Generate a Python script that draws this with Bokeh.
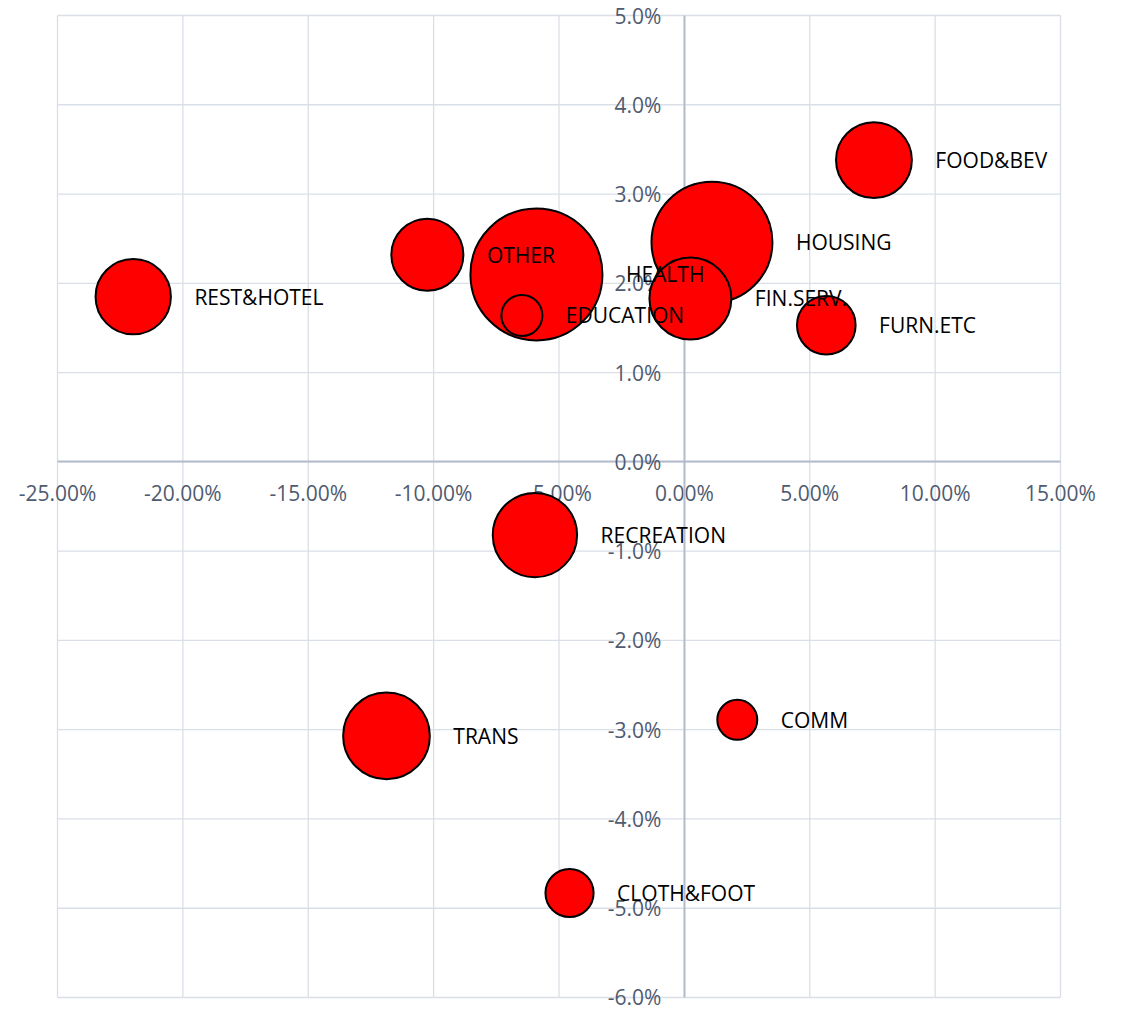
import math

from bokeh.core.properties import value
from bokeh.embed import file_html
from bokeh.models import ColumnDataSource, FixedTicker, NumeralTickFormatter, Range1d
from bokeh.plotting import figure
from bokeh.resources import INLINE

# Spending categories: price change (x), volume change (y), bubble size = weight
categories = ["REST&HOTEL", "OTHER", "HEALTH", "EDUCATION", "HOUSING", "FIN.SERV.",
              "FOOD&BEV", "FURN.ETC", "RECREATION", "TRANS", "COMM", "CLOTH&FOOT"]
x_change = [-0.2198, -0.1025, -0.0590, -0.0648, 0.0110, 0.0024,
            0.0756, 0.0566, -0.0596, -0.1188, 0.0211, -0.0458]
y_change = [0.0185, 0.0232, 0.0210, 0.0164, 0.0246, 0.0183,
            0.0338, 0.0153, -0.0082, -0.0307, -0.0289, -0.0483]
weights = [7.1, 6.5, 21.8, 2.1, 18.3, 8.4, 7.2, 4.3, 8.9, 9.4, 2.0, 2.9]

x_ticks = [-0.25, -0.20, -0.15, -0.10, -0.05, 0.0, 0.05, 0.10, 0.15]
y_ticks = [-0.06, -0.05, -0.04, -0.03, -0.02, -0.01, 0.0, 0.01, 0.02, 0.03, 0.04, 0.05]

FONT = "Open Sans"
GRID = "#DADFE7"
AXIS = "#B4BCCB"
TICK_TEXT = "#4F5B70"
MAX_RADIUS = 66.0   # screen px for the largest bubble
LABEL_GAP = 23.5    # space between bubble edge and its label

W, H = 1124, 1010
# plot-area margins inside the canvas (px): left, right, top, bottom
M_L, M_R, M_T, M_B = 57, 64, 15, 13

# The frame fills the whole canvas; ranges are padded so the gridded area
# sits inside the margins and the edge tick labels have room to show.
x0, x1 = x_ticks[0], x_ticks[-1]
y0, y1 = y_ticks[0], y_ticks[-1]
sx = (x1 - x0) / (W - M_L - M_R)
sy = (y1 - y0) / (H - M_T - M_B)

# bubble area proportional to weight; largest bubbles drawn first
wmax = max(weights)
radius = [MAX_RADIUS * math.sqrt(w / wmax) for w in weights]
order = sorted(range(len(categories)), key=lambda i: -weights[i])
src = ColumnDataSource(data=dict(
    x=[x_change[i] for i in order],
    y=[y_change[i] for i in order],
    label=[categories[i] for i in order],
    diam=[2 * radius[i] for i in order],
    off=[radius[i] + LABEL_GAP for i in order],
))

p = figure(width=W, height=H,
           x_range=Range1d(x0 - M_L * sx, x1 + M_R * sx),
           y_range=Range1d(y0 - M_B * sy, y1 + M_T * sy),
           output_backend="svg", toolbar_location=None)
p.min_border = 0
p.outline_line_color = None
p.background_fill_color = "white"
p.border_fill_color = "white"
p.grid.visible = False

# gridlines limited to the plot area
p.segment(x0=x_ticks, y0=[y0] * len(x_ticks), x1=x_ticks, y1=[y1] * len(x_ticks),
          line_color=GRID, line_width=1.3, level="image")
p.segment(x0=[x0] * len(y_ticks), y0=y_ticks, x1=[x1] * len(y_ticks), y1=y_ticks,
          line_color=GRID, line_width=1.3, level="image")

# axes crossing at zero
p.xaxis.ticker = FixedTicker(ticks=x_ticks)
p.xaxis.formatter = NumeralTickFormatter(format="0.00%")
p.xaxis.bounds = (x0, x1)
p.xaxis.fixed_location = 0
p.xaxis.major_label_standoff = 17
p.yaxis.ticker = FixedTicker(ticks=y_ticks)
p.yaxis.formatter = NumeralTickFormatter(format="0.0%")
p.yaxis.bounds = (y0, y1)
p.yaxis.fixed_location = 0
p.yaxis.major_label_standoff = 23
for ax in (p.xaxis, p.yaxis):
    ax.axis_line_color = AXIS
    ax.axis_line_width = 2
    ax.major_tick_in = 0
    ax.major_tick_out = 0
    ax.minor_tick_line_color = None
    ax.major_label_text_font = FONT
    ax.major_label_text_font_size = "21px"
    ax.major_label_text_color = TICK_TEXT

# bubbles, drawn over the axes and their labels
p.scatter(x="x", y="y", size="diam", marker="circle", source=src,
          fill_color="#FF0000", line_color="black", line_width=2, level="overlay")

# category labels to the right of each bubble
p.text(x="x", y="y", text="label", x_offset="off", source=src,
       text_align="left", text_baseline="middle",
       text_font=value(FONT), text_font_size=value("21px"), text_color="black",
       level="overlay")

open("out.html", "w").write(file_html(p, INLINE))
